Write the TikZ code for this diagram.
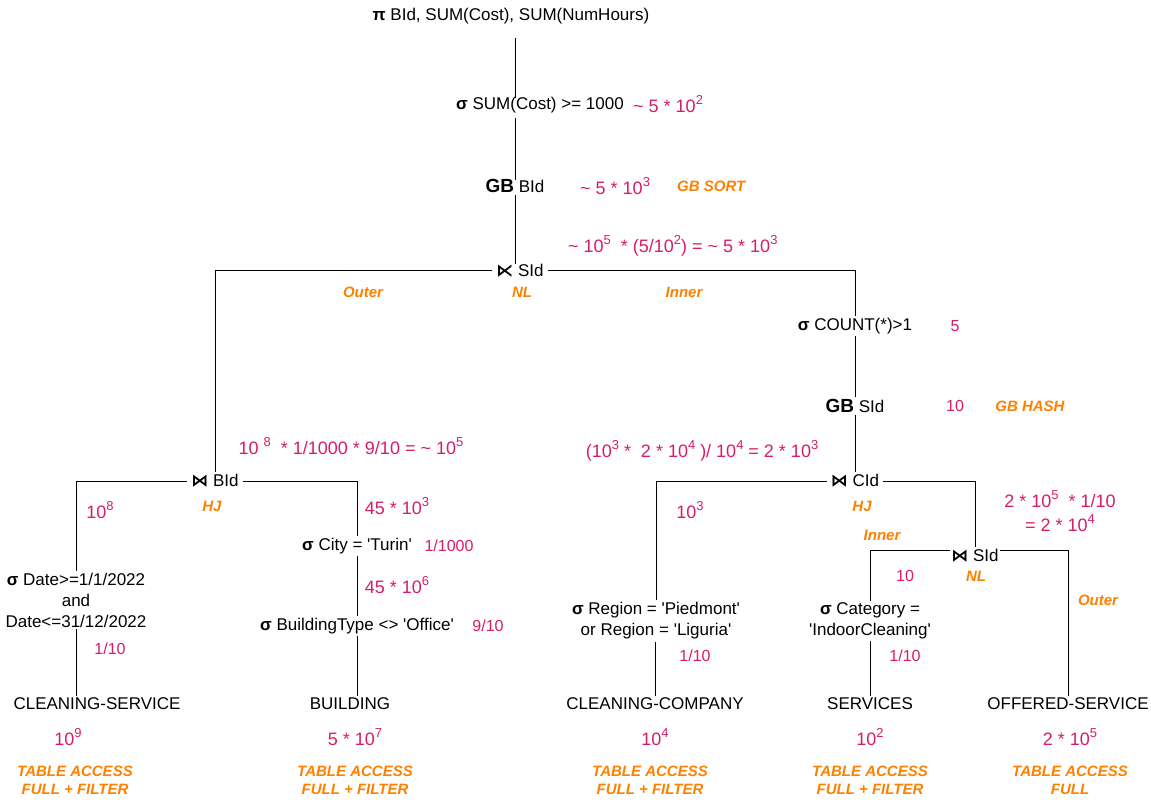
\documentclass[tikz,border=0pt]{standalone}
\usepackage{fontspec}
\setmainfont{Liberation Sans}[Ligatures=TeXOff]
\newfontfamily\symf{DejaVu Sans}
\definecolor{pk}{HTML}{D81B6A}
\definecolor{og}{HTML}{FF8000}
\newcommand\up[1]{\raisebox{0.42em}{\scalebox{0.72}{#1}}}
\newcommand\sg{{\bfseries σ}}
\newcommand\bt{{\symf\bfseries ⋈}}
\tikzset{
  txt/.style={font=\fontsize{17}{21}\selectfont, inner sep=2pt, align=center, text=black},
  est/.style={font=\fontsize{18}{22}\selectfont, inner sep=1pt, align=center, text=pk},
  ests/.style={font=\fontsize{16}{19}\selectfont, inner sep=1pt, text=pk},
  alg/.style={font=\fontsize{15}{18}\selectfont\bfseries\itshape, inner sep=1pt, align=center, text=og},
  ln/.style={draw=black, line width=1pt},
}
\begin{document}
\begin{tikzpicture}[x=1pt,y=-1pt]
\useasboundingbox (0,0) rectangle (1151,810);
% ---- top spine
\node[txt] (pi) at (511,16) {{\bfseries π} BId, SUM(Cost), SUM(NumHours)};
\node[txt] (sel1) at (540,105) {\sg\ SUM(Cost) >= 1000};
\node[est, anchor=west] (sel1c) at (632,104) {\textasciitilde\ 5 * 10\up{2}};
\node[txt] (gb1) at (515,186) {{\fontsize{19}{22}\selectfont\bfseries GB} BId};
\node[est, anchor=west] (gb1c) at (579,186) {\textasciitilde\ 5 * 10\up{3}};
\node[alg, anchor=west] (gb1o) at (676,186) {GB SORT};
\node[est, anchor=west] (sjc) at (567,246) {\textasciitilde\ 10\up{5}\ \ * (5/10\up{2}) = \textasciitilde\ 5 * 10\up{3}};
\node[txt, inner xsep=4pt] (sj) at (520,271) {{\symf\bfseries ⋉} SId};
\node[alg] (outer1) at (363,292) {Outer};
\node[alg] (nl1) at (522,292) {NL};
\node[alg] (inner1) at (684,292) {Inner};
% ---- right branch
\node[txt] (selc) at (855,326) {\sg\ COUNT(*)>1};
\node[ests] (selcc) at (955,326) {5};
\node[txt] (gb2) at (855,406) {{\fontsize{19}{22}\selectfont\bfseries GB} SId};
\node[ests] (gb2c) at (955,406) {10};
\node[alg] (gb2o) at (1030,406) {GB HASH};
\node[est] (cjc) at (702,451) {(10\up{3} *\ \ 2 * 10\up{4} )/ 10\up{4} = 2 * 10\up{3}};
\node[txt, inner xsep=4pt] (cj) at (855,481) {\bt\ CId};
\node[est] (cjl) at (690,510) {10\up{3}};
\node[alg] (hj2) at (862,506) {HJ};
\node[alg] (inner2) at (882,535) {Inner};
\node[est] (sj2c) at (1060,511) {2 * 10\up{5}\ \ * 1/10\\[2pt]= 2 * 10\up{4}};
\node[txt, inner xsep=1pt] (sj2) at (975,556) {\bt\ SId};
\node[alg] (nl2) at (976,576) {NL};
\node[ests] (sj2l) at (905,576) {10};
\node[alg] (outer2) at (1098,600) {Outer};
\node[txt] (selcat) at (870,621) {\sg\ Category =\\'IndoorCleaning'};
\node[ests] (selcatc) at (905,656) {1/10};
\node[txt] (selr) at (656,621) {\sg\ Region = 'Piedmont'\\or Region = 'Liguria'};
\node[ests] (selrc) at (695,656) {1/10};
\node[txt] (cc) at (655,704) {CLEANING-COMPANY};
\node[est] (ccc) at (655,737) {10\up{4}};
\node[alg] (cca) at (650,780) {TABLE ACCESS\\FULL + FILTER};
\node[txt] (services) at (870,704) {SERVICES};
\node[est] (servc) at (870,737) {10\up{2}};
\node[alg] (serva) at (870,780) {TABLE ACCESS\\FULL + FILTER};
\node[txt] (offered) at (1068,704) {OFFERED-SERVICE};
\node[est] (offc) at (1070,737) {2 * 10\up{5}};
\node[alg] (offa) at (1070,780) {TABLE ACCESS\\FULL};
% ---- left branch
\node[est] (bjc) at (351,446) {10 \up{8}\ \ * 1/1000 * 9/10 = \textasciitilde\ 10\up{5}};
\node[txt, inner xsep=4pt] (bj) at (215,481) {\bt\ BId};
\node[alg] (hj1) at (212,506) {HJ};
\node[est] (bjl) at (100,510) {10\up{8}};
\node[est] (bjr) at (397,506) {45 * 10\up{3}};
\node[txt] (selcity) at (357,546) {\sg\ City = 'Turin'};
\node[ests] (selcityc) at (449,546) {1/1000};
\node[est] (cityl) at (397,585) {45 * 10\up{6}};
\node[txt] (selbt) at (357,626) {\sg\ BuildingType <> 'Office'};
\node[ests] (selbtc) at (488,626) {9/10};
\node[txt] (building) at (350,704) {BUILDING};
\node[est] (bldc) at (355,737) {5 * 10\up{7}};
\node[alg] (blda) at (355,780) {TABLE ACCESS\\FULL + FILTER};
\node[txt] (datesel) at (76,600) {\sg\ Date>=1/1/2022\\and\\Date<=31/12/2022};
\node[ests] (dateselc) at (110,649) {1/10};
\node[txt] (cs) at (97,704) {CLEANING-SERVICE};
\node[est] (csc) at (68,737) {10\up{9}};
\node[alg] (csa) at (75,780) {TABLE ACCESS\\FULL + FILTER};
% ---- connectors
\draw[ln, shorten <=12pt, shorten >=-3pt] (gb1.north |- pi.south) -- (gb1.north |- sel1.north);
\draw[ln, shorten <=3pt, shorten >=-3pt] (gb1.north |- sel1.south) -- (gb1.north);
\draw[ln, shorten >=-2pt] (gb1.south) -- (gb1.south |- sj.north);
\draw[ln] (sj.west) -| (bj.north);
\draw[ln] (sj.east) -| (selc.north);
\draw[ln] (selc.south) -- (gb2.north);
\draw[ln] (gb2.south) -- (cj.north);
\draw[ln] (cj.west) -| (selr.north);
\draw[ln] (cj.east) -| (sj2.north);
\draw[ln] ([yshift=6pt]sj2.west) -| (selcat.north);
\draw[ln] ([yshift=6pt]sj2.east) -| (offered.north);
\draw[ln] (selcat.south) -- (selcat.south |- services.north);
\draw[ln] (cc.north |- selr.south) -- (cc.north);
\draw[ln] (bj.west) -| (datesel.north);
\draw[ln] (bj.east) -| (selcity.north);
\draw[ln] (selcity.south) -- (selcity.south |- selbt.north);
\draw[ln] (selcity.south |- selbt.south) -- (selcity.south |- building.north);
\draw[ln] (datesel.south) -- (datesel.south |- cs.north);
\end{tikzpicture}
\end{document}
